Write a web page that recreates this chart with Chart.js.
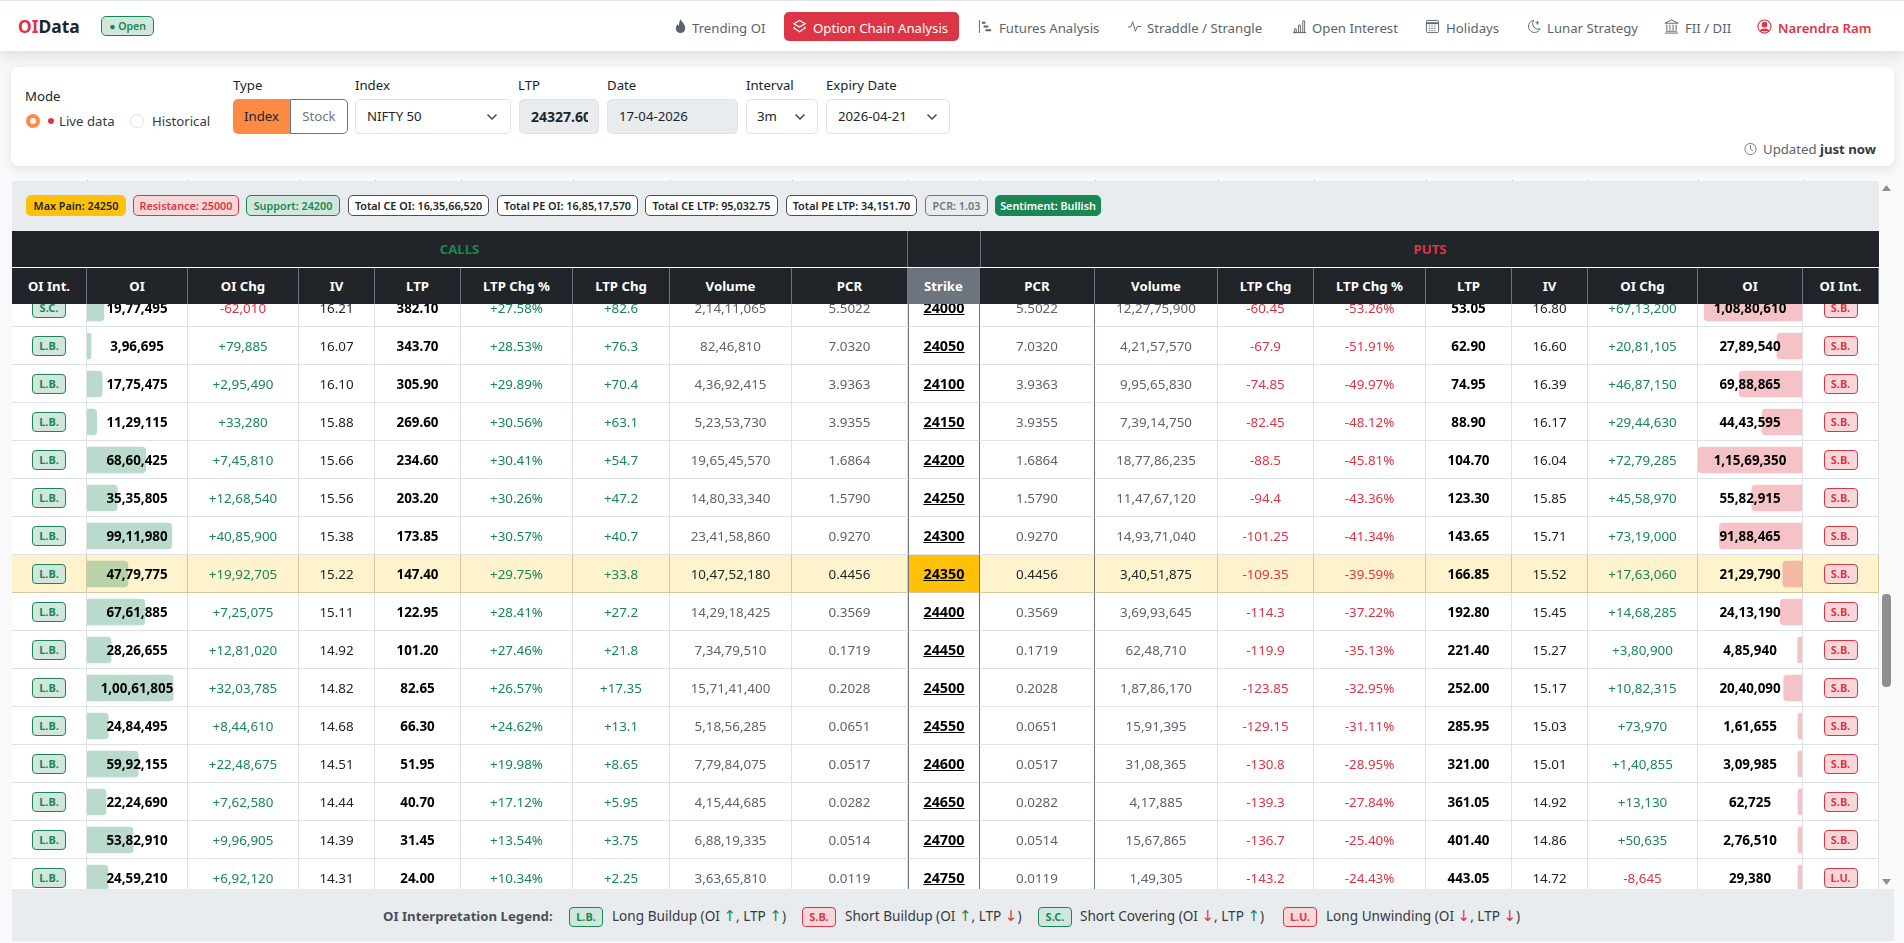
<!DOCTYPE html>
<html>
<head>
<meta charset="utf-8">
<title>OIData - Option Chain Analysis</title>
<script src="https://cdn.jsdelivr.net/npm/chart.js@4"></script>
<style>
* { box-sizing: border-box; }
html, body { margin: 0; padding: 0; width: 1904px; height: 943px; overflow: hidden; background: #f8f9fa; color: #212529; font-family: "Noto Sans", sans-serif; font-size: 13.2px; }
.abs { position: absolute; white-space: nowrap; }
svg { display: block; }

/* top bar */
#nav { position: absolute; left: 0; top: 0; width: 1904px; height: 51px; background: #fff; border-top: 1px solid #dfe3ee; box-shadow: 0 6px 14px rgba(0,0,0,.1); }
.nav-item { color: #5c636a; top: 19px; line-height: 18px; }
.nav-icon { position: absolute; top: 19px; width: 15px; height: 15px; color: #5c636a; }

/* filter card */
#card { position: absolute; left: 11px; top: 67px; width: 1883px; height: 99px; background: #fff; border-radius: 8px; box-shadow: 0 3px 10px rgba(0,0,0,.1); }
.lbl { font-size: 13.2px; line-height: 18px; }
.field { position: absolute; top: 99px; height: 35px; border: 1px solid #dee2e6; border-radius: 5px; background: #fff; line-height: 33px; white-space: nowrap; overflow: hidden; }
.field.off { background: #e9ecef; }
.chev { position: absolute; top: 112px; width: 12px; height: 10px; }

/* table card */
#strip { position: absolute; left: 12px; top: 181px; width: 1867px; height: 50px; background: #e9ecef; }
.pill { position: absolute; top: 195px; height: 21px; line-height: 19px; border: 1px solid #495057; background: #fff; border-radius: 5px; font-size: 10.8px; font-weight: 600; text-align: center; white-space: nowrap; }
#tick-row div { position: absolute; top: 180px; width: 1px; height: 2px; background: #adb5bd; }

#head { position: absolute; left: 12px; top: 231px; width: 1867px; height: 73px; background: #212529; }
#head .sep { position: absolute; left: 0; top: 36px; width: 100%; height: 1px; background: #fff; }
.hcell { position: absolute; top: 37px; height: 36px; line-height: 36px; color: #fff; font-weight: 700; text-align: center; border-right: 1px solid #6c757d; white-space: nowrap; }
.group { position: absolute; top: 0; height: 36px; line-height: 36px; font-weight: 700; text-align: center; }

#view { position: absolute; left: 12px; top: 304px; width: 1867px; height: 585px; overflow: hidden; background: #fff; }
#inner { position: absolute; left: 0; top: -15px; width: 1867px; height: 608px; }
#inner table { position: absolute; left: 0; top: 0; border-collapse: separate; border-spacing: 0; table-layout: fixed; }
#inner td { height: 38px; padding: 0; text-align: center; font-size: 13.4px; border-right: 1px solid #dee2e6; border-bottom: 1px solid #dee2e6; white-space: nowrap; }
#inner td span { position: relative; z-index: 2; }
#inner canvas { position: absolute; top: 0; z-index: 1; pointer-events: none; }
td.oi, td.ltp { font-weight: 700; color: #000; }
td.muted { color: #5c636a; }
td.up { color: #198754; }
td.down { color: #dc3545; }
#inner td.strike { font-size: 14.4px; font-weight: 700; color: #000; text-decoration: underline; border-left: 1px solid #6c757d; border-right: 1px solid #6c757d; }
#inner td.rule { border-right: 1px solid #6c757d; }
tr.atm td { background: #fff3cd; }
#inner tr.atm td { border-bottom-color: #d6c89c; border-right-color: #d6c89c; }
tr.atm td.muted { color: #212529; }
#inner tr.atm td.strike { background: #ffc107; border-left-color: #6c757d; border-right-color: #6c757d; }
#inner tr.atm td.rule { border-right-color: #6c757d; }
.tag { display: inline-block; width: 34px; height: 20px; line-height: 18px; border-radius: 4px; font-size: 11px !important; font-weight: 700; text-align: center; vertical-align: middle; border: 1px solid; }
.tag.g { color: #198754; border-color: #198754; background: #d1e7dd; }
.tag.r { color: #dc3545; border-color: #dc3545; background: #f8d7da; }

/* scrollbar */
#track { position: absolute; left: 1879px; top: 181px; width: 15px; height: 708px; background: #fafafa; }
#thumb { position: absolute; left: 3px; top: 413px; width: 9px; height: 93px; background: #8f8f8f; border-radius: 4px; }

/* bottom legend */
#legend { position: absolute; left: 12px; top: 889px; width: 1882px; height: 52px; background: #e9ecef; }
.leg { top: 906px; line-height: 20px; color: #343a40; font-size: 13.6px; }
.leg b { font-family: "DejaVu Sans", sans-serif; font-size: 15px; font-weight: 400; }
.leg b.g { color: #198754; }
.leg b.r { color: #dc3545; }
.legtag { position: absolute; top: 907px; }
</style>
</head>
<body>

<div id="nav"></div>
<div class="abs" style="left:18px;top:14px;font-size:17.4px;font-weight:700;line-height:24px;color:#212529"><span style="color:#dc3545">OI</span>Data</div>
<div class="abs" style="left:101px;top:16px;width:53px;height:20px;border:1px solid #198754;border-radius:5px;background:#d1e7dd;color:#198754;font-size:10.5px;font-weight:600;line-height:18px;text-align:center">● Open</div>

<svg class="nav-icon" style="left:673px" viewBox="0 0 16 16" fill="currentColor"><path d="M8 0c.6 3 5 4.500 5 10a5 5 0 0 1-10 0c0-2 1-3.500 2-4.500.2 1 .7 1.600 1.200 1.800C6.500 5 7 2 8 0z"/></svg>
<div class="abs nav-item" style="left:692px">Trending OI</div>

<div class="abs" style="left:784px;top:12px;width:175px;height:29px;background:#dc3545;border-radius:5px"></div>
<svg class="nav-icon" style="left:792px;color:#fff" viewBox="0 0 16 16" fill="none" stroke="currentColor" stroke-width="1.300"><path d="M8 1.500 14 5 8 8.500 2 5z"/><path d="M3 8.500 2 9.500 8 13.500 14 9.500 13 8.500"/></svg>
<div class="abs nav-item" style="left:813px;color:#fff">Option Chain Analysis</div>

<svg class="nav-icon" style="left:978px" viewBox="0 0 16 16" fill="currentColor"><path d="M1 1h1v14H1zM4 3h4v2H4zM6 7h5v2H6zM8 11h6v2H8z"/></svg>
<div class="abs nav-item" style="left:999px">Futures Analysis</div>
<svg class="nav-icon" style="left:1127px" viewBox="0 0 16 16" fill="none" stroke="currentColor" stroke-width="1"><path d="M1 8.500h3L6 3l3 10 2-5h4"/></svg>
<div class="abs nav-item" style="left:1147px">Straddle / Strangle</div>
<svg class="nav-icon" style="left:1292px" viewBox="0 0 16 16" fill="none" stroke="currentColor" stroke-width="1"><path d="M1 14.500h14M2.500 10.500h2v4h-2zM7 6.500h2v8H7zM11.500 2h2v12.500h-2z"/></svg>
<div class="abs nav-item" style="left:1312px">Open Interest</div>
<svg class="nav-icon" style="left:1425px" viewBox="0 0 16 16" fill="none" stroke="currentColor" stroke-width="1"><rect x="1.500" y="1.500" width="13" height="13" rx="1.500"/><path d="M1.500 4.500h13" stroke-width="2"/><path d="M4 7.500h8M4 10h8M4 12.500h8" stroke-dasharray="1.500 1.300"/></svg>
<div class="abs nav-item" style="left:1446px">Holidays</div>
<svg class="nav-icon" style="left:1527px" viewBox="0 0 16 16" fill="none" stroke="currentColor" stroke-width="1"><path d="M7 1.500a6.500 6.500 0 1 0 7 9 6 6 0 0 1-7-9z"/><path d="M11 2v4M9 4h4"/></svg>
<div class="abs nav-item" style="left:1547px">Lunar Strategy</div>
<svg class="nav-icon" style="left:1664px" viewBox="0 0 16 16" fill="none" stroke="currentColor" stroke-width="1"><path d="M8 1 15 4.500H1zM3 6v6M6.300 6v6M9.700 6v6M13 6v6M2 13h12M1 15h14"/></svg>
<div class="abs nav-item" style="left:1685px">FII / DII</div>
<svg class="nav-icon" style="left:1757px;color:#dc3545" viewBox="0 0 16 16" fill="none" stroke="currentColor" stroke-width="1.200"><circle cx="8" cy="8" r="7"/><circle cx="8" cy="6" r="2.500" fill="currentColor"/><path d="M3.500 13c1-3 8-3 9 0" fill="currentColor"/></svg>
<div class="abs nav-item" style="left:1778px;color:#dc3545;font-weight:600">Narendra Ram</div>

<div id="card"></div>
<div class="abs lbl" style="left:25px;top:87px">Mode</div>
<div class="abs" style="left:26px;top:114px;width:14px;height:14px;border-radius:50%;background:#fff;border:4px solid #fd8a45"></div>
<div class="abs" style="left:48px;top:118px;width:6px;height:6px;border-radius:50%;background:#dc3545"></div>
<div class="abs lbl" style="left:59px;top:112px;color:#343a40">Live data</div>
<div class="abs" style="left:130px;top:114px;width:14px;height:14px;border-radius:50%;background:#fff;border:1px solid #dee2e6"></div>
<div class="abs lbl" style="left:152px;top:112px;color:#343a40">Historical</div>

<div class="abs lbl" style="left:233px;top:76px">Type</div>
<div class="abs" style="left:233px;top:99px;width:57px;height:35px;background:#fd8a45;border-radius:5px 0 0 5px;line-height:35px;text-align:center;color:#212529">Index</div>
<div class="abs" style="left:290px;top:99px;width:58px;height:35px;background:#fff;border:1px solid #6c757d;border-radius:0 5px 5px 0;line-height:33px;text-align:center;color:#6c757d">Stock</div>

<div class="abs lbl" style="left:355px;top:76px">Index</div>
<div class="field" style="left:355px;width:156px;padding-left:11px">NIFTY 50</div>
<div class="abs lbl" style="left:518px;top:76px">LTP</div>
<div class="field off" style="left:519px;width:80px;padding-left:11px;padding-right:10px;font-weight:700;font-size:14px"><div style="overflow:hidden">24327.60</div></div>
<div class="abs lbl" style="left:607px;top:76px">Date</div>
<div class="field off" style="left:607px;width:131px;padding-left:11px">17-04-2026</div>
<div class="abs lbl" style="left:746px;top:76px">Interval</div>
<div class="field" style="left:746px;width:72px;padding-left:10px">3m</div>
<div class="abs lbl" style="left:826px;top:76px">Expiry Date</div>
<div class="field" style="left:826px;width:124px;padding-left:11px">2026-04-21</div>
<svg class="chev" style="left:486px" viewBox="0 0 12 10" fill="none" stroke="#343a40" stroke-width="1.300"><path d="M1.500 2.500 6 7l4.500-4.500"/></svg>
<svg class="chev" style="left:794px" viewBox="0 0 12 10" fill="none" stroke="#343a40" stroke-width="1.300"><path d="M1.500 2.500 6 7l4.500-4.500"/></svg>
<svg class="chev" style="left:926px" viewBox="0 0 12 10" fill="none" stroke="#343a40" stroke-width="1.300"><path d="M1.500 2.500 6 7l4.500-4.500"/></svg>

<svg class="abs" style="left:1744px;top:142px;width:13px;height:14px;color:#6c757d" viewBox="0 0 14 14" fill="none" stroke="currentColor" stroke-width="1"><circle cx="7" cy="7" r="6"/><path d="M7 3v4.300l2.500 1.500"/></svg>
<div class="abs" style="left:1763px;top:140px;line-height:18px;color:#5c636a">Updated <b style="color:#343a40">just now</b></div>

<div id="tick-row"></div>
<div id="strip"></div>
<div class="pill" style="left:26px;width:100px;background:#ffc107;border-color:#ffc107">Max Pain: 24250</div>
<div class="pill" style="left:133px;width:106px;background:#f8d7da;border-color:#dc3545;color:#dc3545">Resistance: 25000</div>
<div class="pill" style="left:246px;width:94px;background:#d1e7dd;border-color:#198754;color:#198754">Support: 24200</div>
<div class="pill" style="left:348px;width:141px">Total CE OI: 16,35,66,520</div>
<div class="pill" style="left:497px;width:141px">Total PE OI: 16,85,17,570</div>
<div class="pill" style="left:645px;width:133px">Total CE LTP: 95,032.75</div>
<div class="pill" style="left:786px;width:131px">Total PE LTP: 34,151.70</div>
<div class="pill" style="left:925px;width:63px;background:#e9ecef;border-color:#6c757d;color:#6c757d">PCR: 1.03</div>
<div class="pill" style="left:995px;width:106px;background:#198754;border-color:#198754;color:#fff">Sentiment: Bullish</div>

<div id="head"></div>

<div id="view"><div id="inner">
  <table id="rows"></table>
  <canvas id="ceOiChart"></canvas>
  <canvas id="peOiChart"></canvas>
</div></div>

<div id="track"><div id="thumb"></div>
  <svg class="abs" style="left:3px;top:3px;width:9px;height:8px" viewBox="0 0 9 8"><path d="M4.500 1 9 7H0z" fill="#8f8f8f"/></svg>
  <svg class="abs" style="left:3px;top:697px;width:9px;height:8px" viewBox="0 0 9 8"><path d="M0 1h9L4.500 7z" fill="#8f8f8f"/></svg>
</div>

<div id="legend"></div>
<div class="abs leg" style="left:383px;font-weight:700;color:#495057;font-size:13.2px">OI Interpretation Legend:</div>
<div class="legtag" style="left:569px"><span class="tag g">L.B.</span></div>
<div class="abs leg" style="left:612px">Long Buildup (OI <b class="g">↑</b>, LTP <b class="g">↑</b>)</div>
<div class="legtag" style="left:802px"><span class="tag r">S.B.</span></div>
<div class="abs leg" style="left:845px">Short Buildup (OI <b class="g">↑</b>, LTP <b class="r">↓</b>)</div>
<div class="legtag" style="left:1038px"><span class="tag g">S.C.</span></div>
<div class="abs leg" style="left:1080px">Short Covering (OI <b class="r">↓</b>, LTP <b class="g">↑</b>)</div>
<div class="legtag" style="left:1283px"><span class="tag r">L.U.</span></div>
<div class="abs leg" style="left:1326px">Long Unwinding (OI <b class="r">↓</b>, LTP <b class="r">↓</b>)</div>

<script>
// option chain values, one array per column
const strikes = [24000, 24050, 24100, 24150, 24200, 24250, 24300, 24350, 24400, 24450, 24500, 24550, 24600, 24650, 24700, 24750];
const atmStrike = 24350;

const ceInt = ['S.C.', 'L.B.', 'L.B.', 'L.B.', 'L.B.', 'L.B.', 'L.B.', 'L.B.', 'L.B.', 'L.B.', 'L.B.', 'L.B.', 'L.B.', 'L.B.', 'L.B.', 'L.B.'];
const ceOi = [1977495, 396695, 1775475, 1129115, 6860425, 3535805, 9911980, 4779775, 6761885, 2826655, 10061805, 2484495, 5992155, 2224690, 5382910, 2459210];
const ceOiChg = [-62010, 79885, 295490, 33280, 745810, 1268540, 4085900, 1992705, 725075, 1281020, 3203785, 844610, 2248675, 762580, 996905, 692120];
const ceIv = [16.21, 16.07, 16.10, 15.88, 15.66, 15.56, 15.38, 15.22, 15.11, 14.92, 14.82, 14.68, 14.51, 14.44, 14.39, 14.31];
const ceLtp = [382.10, 343.70, 305.90, 269.60, 234.60, 203.20, 173.85, 147.40, 122.95, 101.20, 82.65, 66.30, 51.95, 40.70, 31.45, 24.00];
const ceLtpPct = [27.58, 28.53, 29.89, 30.56, 30.41, 30.26, 30.57, 29.75, 28.41, 27.46, 26.57, 24.62, 19.98, 17.12, 13.54, 10.34];
const ceLtpChg = [82.6, 76.3, 70.4, 63.1, 54.7, 47.2, 40.7, 33.8, 27.2, 21.8, 17.35, 13.1, 8.65, 5.95, 3.75, 2.25];
const ceVolume = [21411065, 8246810, 43692415, 52353730, 196545570, 148033340, 234158860, 104752180, 142918425, 73479510, 157141400, 51856285, 77984075, 41544685, 68819335, 36365810];
const pcr = [5.5022, 7.0320, 3.9363, 3.9355, 1.6864, 1.5790, 0.9270, 0.4456, 0.3569, 0.1719, 0.2028, 0.0651, 0.0517, 0.0282, 0.0514, 0.0119];
const peVolume = [122775900, 42157570, 99565830, 73914750, 187786235, 114767120, 149371040, 34051875, 36993645, 6248710, 18786170, 1591395, 3108365, 417885, 1567865, 149305];
const peLtpChg = [-60.45, -67.9, -74.85, -82.45, -88.5, -94.4, -101.25, -109.35, -114.3, -119.9, -123.85, -129.15, -130.8, -139.3, -136.7, -143.2];
const peLtpPct = [-53.26, -51.91, -49.97, -48.12, -45.81, -43.36, -41.34, -39.59, -37.22, -35.13, -32.95, -31.11, -28.95, -27.84, -25.40, -24.43];
const peLtp = [53.05, 62.90, 74.95, 88.90, 104.70, 123.30, 143.65, 166.85, 192.80, 221.40, 252.00, 285.95, 321.00, 361.05, 401.40, 443.05];
const peIv = [16.80, 16.60, 16.39, 16.17, 16.04, 15.85, 15.71, 15.52, 15.45, 15.27, 15.17, 15.03, 15.01, 14.92, 14.86, 14.72];
const peOiChg = [6713200, 2081105, 4687150, 2944630, 7279285, 4558970, 7319000, 1763060, 1468285, 380900, 1082315, 73970, 140855, 13130, 50635, -8645];
const peOi = [10880610, 2789540, 6988865, 4443595, 11569350, 5582915, 9188465, 2129790, 2413190, 485940, 2040090, 161655, 309985, 62725, 276510, 29380];
const peInt = ['S.B.', 'S.B.', 'S.B.', 'S.B.', 'S.B.', 'S.B.', 'S.B.', 'S.B.', 'S.B.', 'S.B.', 'S.B.', 'S.B.', 'S.B.', 'S.B.', 'S.B.', 'L.U.'];

const headers = ['OI Int.', 'OI', 'OI Chg', 'IV', 'LTP', 'LTP Chg %', 'LTP Chg', 'Volume', 'PCR', 'Strike', 'PCR', 'Volume', 'LTP Chg', 'LTP Chg %', 'LTP', 'IV', 'OI Chg', 'OI', 'OI Int.'];

// widest call OI sits on a strike scrolled out of view, this is estimated from the bar lengths
const ceOiAxisMax = 11680000;

// column edges in page pixels
const colEdges = [12, 87, 188, 299, 375, 461, 573, 670, 792, 908, 980, 1095, 1218, 1314, 1426, 1512, 1588, 1698, 1803, 1879];

const num = v => v.toLocaleString('en-IN');
const signed = v => (v > 0 ? '+' : '') + num(v);
const signedRaw = v => (v > 0 ? '+' : '') + v;
const fixed = (v, d) => v.toFixed(d);
const pct = v => (v > 0 ? '+' : '') + v.toFixed(2) + '%';
const tone = v => v < 0 ? 'down' : 'up';

function tagHtml(t) {
    const cls = (t === 'L.B.' || t === 'S.C.') ? 'g' : 'r';
    return `<span class="tag ${cls}">${t}</span>`;
}

function cell(text, cls) {
    return `<td class="${cls}"><span>${text}</span></td>`;
}

function buildHead() {
    const head = document.getElementById('head');
    let html = '<div class="sep"></div>';
    html += `<div class="group" style="left:0;width:${colEdges[9] - colEdges[0]}px;color:#198754;border-right:1px solid #6c757d">CALLS</div>`;
    html += `<div class="group" style="left:${colEdges[10] - colEdges[0]}px;width:${colEdges[19] - colEdges[10]}px;color:#dc3545;border-left:1px solid #6c757d">PUTS</div>`;
    headers.forEach((h, i) => {
        const bg = i === 9 ? 'background:#6c757d;' : '';
        html += `<div class="hcell" style="left:${colEdges[i] - colEdges[0]}px;width:${colEdges[i + 1] - colEdges[i]}px;${bg}">${h}</div>`;
    });
    head.innerHTML = html;

    // little column ticks peeking out above the sticky strip
    document.getElementById('tick-row').innerHTML = colEdges.slice(1, -1).map(x => `<div style="left:${x}px"></div>`).join('');
}

function buildRows() {
    let html = '<colgroup>';
    for (let i = 0; i < colEdges.length - 1; i++) {
        html += `<col style="width:${colEdges[i + 1] - colEdges[i]}px">`;
    }
    html += '</colgroup>';
    strikes.forEach((s, i) => {
        html += `<tr class="${s === atmStrike ? 'atm' : ''}">`;
        html += cell(tagHtml(ceInt[i]), '');
        html += cell(num(ceOi[i]), 'oi');
        html += cell(signed(ceOiChg[i]), tone(ceOiChg[i]));
        html += cell(fixed(ceIv[i], 2), '');
        html += cell(fixed(ceLtp[i], 2), 'ltp');
        html += cell(pct(ceLtpPct[i]), tone(ceLtpPct[i]));
        html += cell(signedRaw(ceLtpChg[i]), tone(ceLtpChg[i]));
        html += cell(num(ceVolume[i]), 'muted');
        html += cell(fixed(pcr[i], 4), 'muted');
        html += cell(s, 'strike');
        html += cell(fixed(pcr[i], 4), 'muted rule');
        html += cell(num(peVolume[i]), 'muted');
        html += cell(signedRaw(peLtpChg[i]), tone(peLtpChg[i]));
        html += cell(pct(peLtpPct[i]), tone(peLtpPct[i]));
        html += cell(fixed(peLtp[i], 2), 'ltp');
        html += cell(fixed(peIv[i], 2), '');
        html += cell(signed(peOiChg[i]), tone(peOiChg[i]));
        html += cell(num(peOi[i]), 'oi');
        html += cell(tagHtml(peInt[i]), '');
        html += '</tr>';
    });
    const table = document.getElementById('rows');
    table.innerHTML = html;
    table.style.width = (colEdges[colEdges.length - 1] - colEdges[0]) + 'px';
}

// OI columns are real horizontal bar charts sitting behind the cell text
function createOiChart(id, values, colIndex, color, axisMax, reverse) {
    const canvas = document.getElementById(id);
    const left = colEdges[colIndex] - colEdges[0];
    const width = colEdges[colIndex + 1] - colEdges[colIndex] - 1;
    canvas.width = width;
    canvas.height = strikes.length * 38;
    canvas.style.left = left + 'px';
    canvas.style.width = width + 'px';
    canvas.style.height = canvas.height + 'px';

    return new Chart(canvas.getContext('2d'), {
        type: 'bar',
        data: {
            labels: strikes,
            datasets: [{
                data: values,
                backgroundColor: color,
                barThickness: 26,
                minBarLength: 4,
                borderRadius: 4
            }]
        },
        options: {
            indexAxis: 'y',
            responsive: false,
            animation: false,
            devicePixelRatio: 1,
            layout: { padding: 0 },
            plugins: { legend: { display: false }, tooltip: { enabled: false } },
            scales: {
                x: { display: false, min: 0, max: axisMax, reverse: reverse },
                y: { display: false }
            }
        }
    });
}

buildHead();
buildRows();
createOiChart('ceOiChart', ceOi, 1, 'rgba(25,135,84,0.3)', ceOiAxisMax, false);
createOiChart('peOiChart', peOi, 17, 'rgba(220,53,69,0.3)', Math.max(...peOi), true);
</script>
</body>
</html>
